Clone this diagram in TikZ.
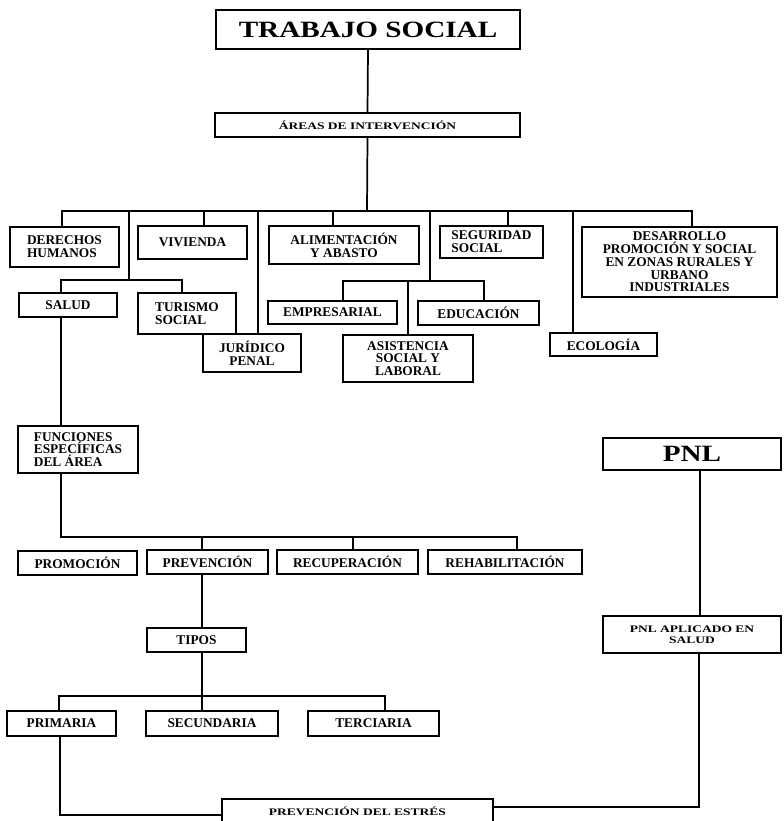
\documentclass[tikz,border=0pt]{standalone}
\usepackage{fontspec}
\setmainfont{Liberation Serif}
\newfontfamily\widefont[FakeStretch=1.25]{Liberation Serif}
\newfontfamily\thinfont[FakeStretch=1.35]{Liberation Serif}
\usetikzlibrary{calc}
\newcommand{\lbl}{\fontsize{10}{9.6}\selectfont\bfseries}
\newcommand{\titlelbl}{\fontsize{17.5}{20}\selectfont\widefont\bfseries}
\newcommand{\smalllbl}{\fontsize{7.5}{8.5}\selectfont\thinfont\bfseries}

\begin{document}
\begin{tikzpicture}[x=0.75pt,y=-0.75pt,line width=1.3pt,
  box/.style={draw,line width=1.3pt,inner sep=1pt,font=\lbl,align=center},
  sz/.style 2 args={minimum width=#1*0.75pt,minimum height=#2*0.75pt}]
\useasboundingbox (0,0) rectangle (783,821);
\node[box,sz={304}{39},font=\titlelbl] (ts) at (368,29.5) {TRABAJO SOCIAL};
\node[box,sz={305}{24},font=\smalllbl] (areas) at (367.5,125) {ÁREAS DE INTERVENCIÓN};
\node[box,sz={109}{40},align=left] (der) at (64.5,247) {DERECHOS\\HUMANOS};
\node[box,sz={109}{33}] (viv) at (192.5,242.5) {VIVIENDA};
\node[box,sz={150}{38}] (alim) at (344,245) {ALIMENTACIÓN\\Y ABASTO};
\node[box,sz={103}{32},align=left] (seg) at (491.5,242) {SEGURIDAD\\SOCIAL};
\node[box,sz={195}{70}] (des) at (679.5,262) {DESARROLLO\\PROMOCIÓN Y SOCIAL\\EN ZONAS RURALES Y\\URBANO\\INDUSTRIALES};
\node[box,sz={98}{24}] (salud) at (68,305) {SALUD};
\node[box,sz={98}{41},align=left] (tur) at (187,313.5) {TURISMO\\SOCIAL};
\node[box,sz={98}{38}] (jur) at (252,353) {JURÍDICO\\PENAL};
\node[box,sz={129}{23}] (emp) at (332.5,312.5) {EMPRESARIAL};
\node[box,sz={121}{24}] (edu) at (478.5,313) {EDUCACIÓN};
\node[box,sz={130}{47}] (asi) at (408,358.5) {ASISTENCIA\\SOCIAL Y\\LABORAL};
\node[box,sz={107}{23}] (eco) at (603.5,344.5) {ECOLOGÍA};
\node[box,sz={120}{47},align=left] (fun) at (78,449.5) {FUNCIONES\\ESPECÍFICAS\\DEL ÁREA};
\node[box,sz={178}{32},font=\titlelbl] (pnl) at (692,454) {PNL};
\node[box,sz={178}{37},font=\smalllbl] (pnlapl) at (692,634.5) {PNL APLICADO EN\\SALUD};
\node[box,sz={119}{24}] (promo) at (77.5,563) {PROMOCIÓN};
\node[box,sz={121}{24}] (prev) at (207.5,562) {PREVENCIÓN};
\node[box,sz={141}{24}] (recu) at (347.5,562) {RECUPERACIÓN};
\node[box,sz={154}{24}] (rehab) at (505,562) {REHABILITACIÓN};
\node[box,sz={99}{24}] (tipos) at (196.5,640) {TIPOS};
\node[box,sz={109}{25}] (prim) at (61.5,723.5) {PRIMARIA};
\node[box,sz={132}{25}] (sec) at (212,723.5) {SECUNDARIA};
\node[box,sz={131}{25}] (ter) at (373.5,723.5) {TERCIARIA};
\node[box,sz={271}{24},font=\smalllbl] (estres) at (357.5,811) {PREVENCIÓN DEL ESTRÉS};
% buses
\coordinate (bus) at (367,211);
\coordinate (subA) at (129,280);
\coordinate (subB) at (430,281);
\coordinate (bus2) at (202,537);
\coordinate (bus3) at (202,696);
\draw (ts.south) -- (areas.north);
\draw (areas.south) -- (bus);
\draw ($(der.north)+(-2.5,0)$) |- (bus);
\draw ($(viv.north)+(11.5,0)$) |- (bus);
\draw ($(alim.north)+(-11,0)$) |- (bus);
\draw ($(seg.north)+(16.5,0)$) |- (bus);
\draw ($(des.north)+(12.5,0)$) |- (bus);
\draw ($(jur.north)+(6,0)$) |- (bus);
\draw ($(eco.north)+(-30.5,0)$) |- (bus);
\draw (subA) -- (subA |- bus);
\draw ($(salud.north)+(-7,0)$) |- (subA);
\draw ($(tur.north)+(-5,0)$) |- (subA);
\draw (subB) -- (subB |- bus);
\draw ($(emp.north)+(10.5,0)$) |- (subB);
\draw ($(edu.north)+(5.5,0)$) |- (subB);
\draw (asi.north) -- (asi.north |- subB);
% funciones
\draw ($(salud.south)+(-7,0)$) -- ($(fun.north)+(-17,0)$);
\draw ($(fun.south)+(-17,0)$) |- (bus2);
\draw ($(prev.north)+(-5.5,0)$) -- (bus2);
\draw ($(recu.north)+(5.5,0)$) |- (bus2);
\draw ($(rehab.north)+(12,0)$) |- (bus2);
\draw ($(prev.south)+(-5.5,0)$) -- ($(tipos.north)+(5.5,0)$);
\draw ($(tipos.south)+(5.5,0)$) -- (bus3);
\draw ($(sec.north)+(-10,0)$) -- (bus3);
\draw ($(prim.north)+(-2.5,0)$) |- (bus3);
\draw ($(ter.north)+(11.5,0)$) |- (bus3);
% estres
\draw ($(prim.south)+(-1.5,0)$) |- ($(estres.west)+(0,4)$);
\draw ($(pnl.south)+(8,0)$) -- ($(pnlapl.north)+(8,0)$);
\draw ($(pnlapl.south)+(7,0)$) |- ($(estres.east)+(0,-4)$);
\end{tikzpicture}
\end{document}
